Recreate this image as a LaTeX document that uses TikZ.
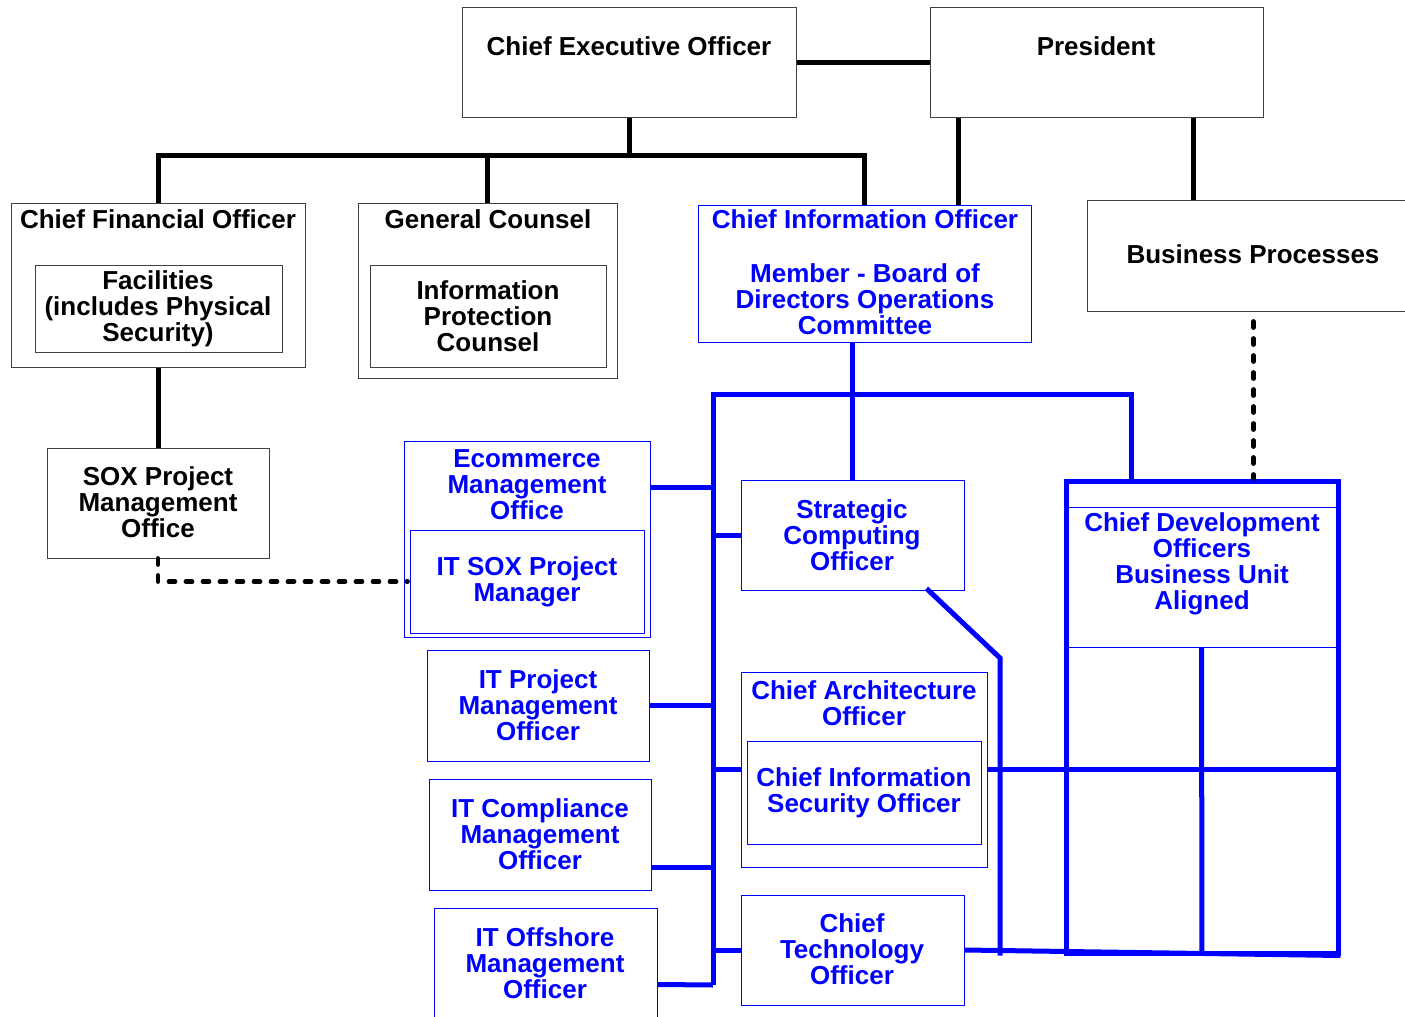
\documentclass[tikz,border=0pt]{standalone}
\usepackage{fontspec}
\setmainfont{Liberation Sans}
\usetikzlibrary{fit,calc}
\tikzset{
  kbox/.style={draw=black!75,line width=0.5pt,inner sep=0pt},
  bbox/.style={draw=blue,line width=0.5pt,inner sep=0pt},
  ktext/.style={font=\fontsize{13}{13}\selectfont\bfseries,align=center,inner sep=0pt},
  btext/.style={ktext,text=blue},
  kline/.style={line width=2.5pt},
  bline/.style={line width=2.5pt,blue},
  dotline/.style={line width=2.4pt,line cap=round,dash pattern=on 3pt off 5.5pt},
}
\begin{document}
\begin{tikzpicture}[x=0.5pt,y=-0.5pt]
    \useasboundingbox (0,0) rectangle (1405,1017);
    \node[kbox,fit={(462,7) (796,117)}] (ceo){};
    \node[kbox,fit={(930,7) (1263,117)}] (pres){};
    \node[kbox,fit={(11,203) (305,367)}] (cfo){};
    \node[kbox,fit={(35,265) (282,352)}] (fac){};
    \node[kbox,fit={(358,203) (617,378)}] (gc){};
    \node[kbox,fit={(370,265) (606,367)}] (ipc){};
    \node[kbox,fit={(1087,200) (1420,311)}] (bp){};
    \node[kbox,fit={(47,448) (269,558)}] (sox){};
    \node[bbox,fit={(698,205) (1031,342)}] (cio){};
    \node[bbox,fit={(404,441) (650,637)}] (eco){};
    \node[bbox,fit={(410,530) (644,633)}] (itsox){};
    \node[bbox,fit={(427,650) (649,761)}] (itpm){};
    \node[bbox,fit={(429,779) (651,890)}] (itcm){};
    \node[bbox,fit={(434,908) (657,1030)}] (itom){};
    \node[bbox,fit={(741,480) (964,590)}] (sco){};
    \node[bbox,fit={(741,672) (987,867)}] (cao){};
    \node[bbox,fit={(747,741) (981,844)}] (ciso){};
    \node[bbox,fit={(741,895) (964,1005)}] (cto){};
    \node[bbox,fit={(1066,507) (1337,647)}] (cdo){};
    \node[bbox,line width=2.5pt,fit={(1066,481) (1338,953)}] (cdof){};

    \node at (629,46)[ktext] (ceot){Chief Executive Officer};
    \node at (1096,46)[ktext] (prest){President};
    \node at (158,219)[ktext] (cfot){Chief Financial Officer};
    \node at (158,309)[ktext] (fact){Facilities\\(includes Physical\\Security)};
    \node at (488,316)[ktext] (ipct){Information\\Protection\\Counsel};
    \node at (488,219)[ktext] (gct){General Counsel};
    \node at (1253,254)[ktext] (bpt){Business Processes};
    \node at (158,502)[ktext] (soxt){SOX Project\\Management\\Office};
    \node at (865,219)[btext] (ciot){Chief Information Officer};
    \node at (865,299)[btext] (ciom){Member - Board of\\Directors Operations\\Committee};
    \node at (527,485)[btext] (ecot){Ecommerce\\Management\\Office};
    \node at (527,582)[btext] (itsoxt){IT SOX Project\\Manager};
    \node at (538,705)[btext] (itpmt){IT Project\\Management\\Officer};
    \node at (540,834)[btext] (itcmt){IT Compliance\\Management\\Officer};
    \node at (545,963)[btext] (itomt){IT Offshore\\Management\\Officer};
    \node at (852,535)[btext] (scot){Strategic\\Computing\\Officer};
    \node at (864,703)[btext] (caot){Chief Architecture\\Officer};
    \node at (864,793)[btext] (cisot){Chief Information\\Security Officer};
    \node at (852,949)[btext] (ctot){Chief\\Technology\\Officer};
    \node at (1202,564)[btext] (cdot){Chief Development\\Officers\\Business Unit\\Aligned};

    \coordinate (bus) at (629,155);
    \coordinate (itbus) at (713,394);
    \coordinate (itbusend) at (713,985);
    \coordinate (kink) at (1000,658);

    \draw[kline] (ceo.east) -- (pres.west);
    \draw[kline] (ceo.south) -- (bus);
    \draw[kline] (cfo.north) |- (bus) -| (cio.north);
    \draw[kline] (gc.north) -- (gc.north |- bus);
    \draw[kline] ($(pres.south west)+(29,0)$) -- ($(cio.north west)+(261,0)$);
    \draw[kline] ($(pres.south west)+(264,0)$) -- ($(bp.north west)+(107,0)$);
    \draw[kline] (cfo.south) -- (sox.north);
    \draw[dotline] (sox.south) |- ($(eco.west |- itsox.center)+(4,0)$);
    \draw[dotline] ($(bp.south)+(0,10)$) -- (bp.south |- cdof.north);

    \draw[bline] (sco.north) -- (sco.north |- cio.south);
    \draw[bline] (itbusend) -- (itbus) -| ($(cdof.north west)+(68,0)$);
    \draw[bline] ($(eco.north east)+(0,47)$) -| (itbus);
    \draw[bline] (sco.west) -| (itbus);
    \draw[bline] (itpm.east) -| (itbus);
    \draw[bline] (cao.west) -| (itbus);
    \draw[bline] ($(itcm.south east)+(0,-23)$) -| (itbus);
    \draw[bline] (cto.west) -| (itbus);
    \draw[bline] ($(itom.north east)+(0,77)$) -- (itbusend);
    \draw[bline] ($(sco.south east)+(-38,-2)$) -- (kink) -- (kink |- cdof.south);
    \draw[bline] (cto.east) -- (cdof.south east);
    \draw[bline] (cao.east) -- (cao.east -| cdof.east);
    \draw[bline] (cdo.south) -- (cdof.south);
\end{tikzpicture}
\end{document}
